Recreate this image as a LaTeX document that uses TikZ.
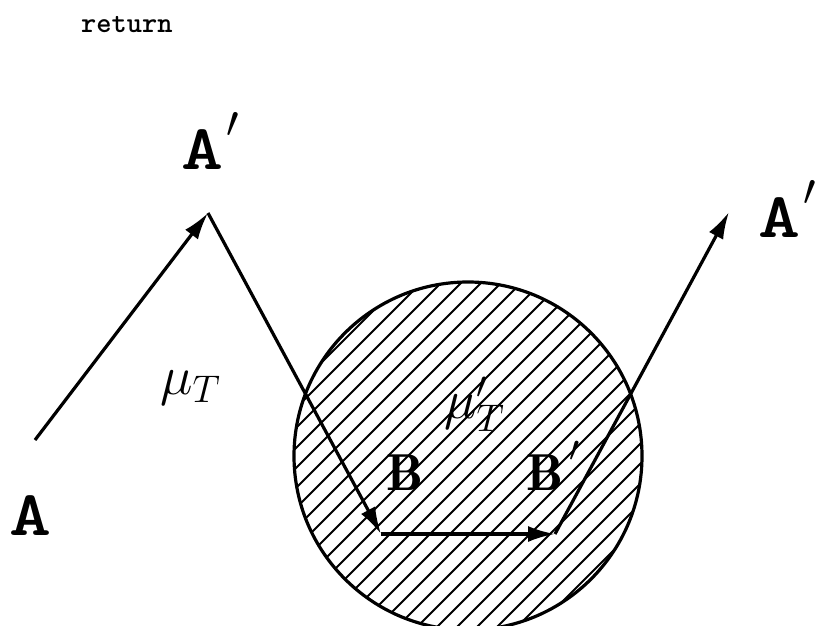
\RequirePackage{fix-cm}
\documentclass[tikz,border=0pt]{standalone}
\usepackage{fontspec}
\newfontfamily\ttten{lmmono10-regular.otf}
\newfontfamily\ttbold{lmmonolt10-bold.otf}
\newfontfamily\rmdemi{lmromandemi10-regular.otf}
\usetikzlibrary{arrows.meta}
\newcommand{\bigA}{\scalebox{1.25}[1]{\ttbold A}}
\begin{document}
\begin{tikzpicture}[x=1pt,y=-1pt,
  arr/.style={line width=3.2pt,-{Latex[length=27pt,width=16pt]}},
  lab/.style={anchor=base west,inner sep=0pt},
  hatch/.style={line width=1.8pt},
  rim/.style={line width=3.2pt}]
\useasboundingbox (0,0) rectangle (832,626);
% shaded circle
\coordinate (c) at (468,456);
\begin{scope}
  \clip (c) circle (174);
  \foreach \k in {-20,...,20}
    \draw[hatch] ([xshift=\k*20pt-250pt,yshift=-250pt]c) -- ([xshift=\k*20pt+250pt,yshift=250pt]c);
\end{scope}
\draw[rim] (c) circle (174);
% path points
\coordinate (pA) at (35,440);
\coordinate (pA1) at (208,213);
\coordinate (pB) at (381,534);
\coordinate (pB1) at (555,534);
\coordinate (pA2) at (729,212);
\draw[arr] (pA) -- (pA1);
\draw[arr] (pA1) -- (pB);
\draw[arr] (pB) -- (pB1);
\draw[arr] (pB1) -- (pA2);
% labels
\node[lab] (ret) at (81,33) {\fontsize{29}{29}\selectfont\ttbold return};
\node[lab] (lA) at (9,535) {\fontsize{64}{64}\selectfont\bigA};
\node[lab] (lA1) at (181,169) {\fontsize{64}{64}\selectfont\bigA\kern3pt\raisebox{8pt}{$'$}};
\node[lab] (lA2) at (758,237) {\fontsize{64}{64}\selectfont\bigA\kern3pt\raisebox{8pt}{$'$}};
\node[lab] (mu) at (160,394) {\fontsize{55}{55}\selectfont$\mu_T$};
\node[lab] (mu1) at (444,418) {\fontsize{55}{55}\selectfont$\mu'_T$};
\node[lab] (lB) at (386,490) {\fontsize{52}{52}\selectfont\rmdemi B};
\node[lab] (lB1) at (526,490) {\fontsize{52}{52}\selectfont\rmdemi B\kern6pt\raisebox{10pt}{$'$}};
\end{tikzpicture}
\end{document}
